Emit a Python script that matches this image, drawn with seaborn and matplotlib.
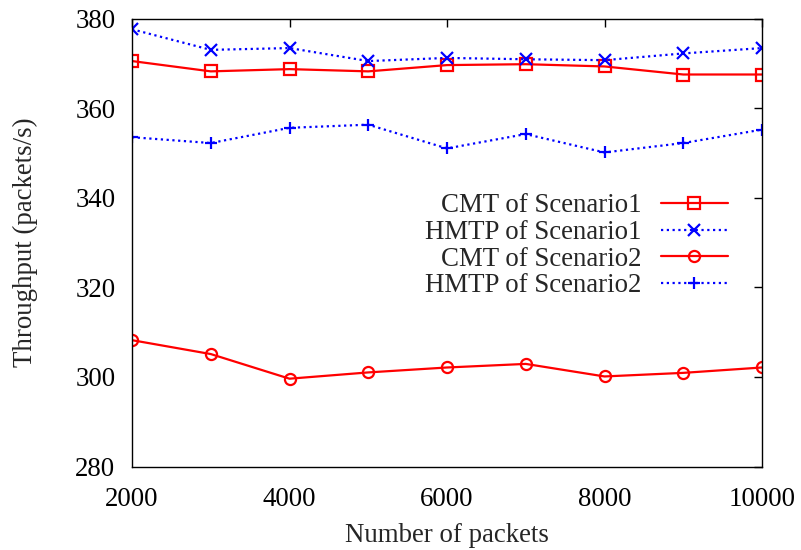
import matplotlib
matplotlib.use("Agg")
import matplotlib.pyplot as plt
import seaborn as sns
import numpy as np

packets = [2000, 3000, 4000, 5000, 6000, 7000, 8000, 9000, 10000]
cmt_s1 = [370.5, 368.2, 368.7, 368.2, 369.6, 369.8, 369.3, 367.5, 367.5]
hmtp_s1 = [377.6, 373.0, 373.4, 370.5, 371.2, 370.9, 370.7, 372.2, 373.4]
cmt_s2 = [308.2, 305.1, 299.6, 301.0, 302.1, 302.9, 300.1, 300.9, 302.1]
hmtp_s2 = [353.5, 352.2, 355.6, 356.3, 351.0, 354.2, 350.1, 352.2, 355.2]

labels = ["CMT of Scenario1", "HMTP of Scenario1", "CMT of Scenario2", "HMTP of Scenario2"]
xticks = [2000, 4000, 6000, 8000, 10000]
yticks = [280, 300, 320, 340, 360, 380]

sns.set_style("white")
plt.rcParams['font.family'] = ['Liberation Serif', 'DejaVu Serif']

FS = 19.4
fig = plt.figure(figsize=(8.01, 5.5), dpi=100)
ax = fig.add_axes([132/801, 1-466.5/550, (762-132)/801, (466.5-18.5)/550])

red = '#ff0000'
blue = '#0000ff'
common = dict(lw=1.6, ms=8, mew=1.6)
dot = (0, (1, 1.6))
sns.lineplot(x=packets, y=cmt_s1, ax=ax, color=red, marker='s', mfc='none', mec=red,
             linestyle='-', label=labels[0], **common)
sns.lineplot(x=packets, y=hmtp_s1, ax=ax, color=blue, marker='x', mec=blue,
             linestyle=dot, label=labels[1], **common)
sns.lineplot(x=packets, y=cmt_s2, ax=ax, color=red, marker='o', mfc='none', mec=red,
             linestyle='-', label=labels[2], **common)
sns.lineplot(x=packets, y=hmtp_s2, ax=ax, color=blue, marker='+', mec=blue,
             linestyle=dot, label=labels[3], **{**common, 'ms': 9})

ax.set_xlim(2000, 10000)
ax.set_ylim(280, 380)
ax.set_xticks(xticks)
ax.set_yticks(yticks)
ax.tick_params(direction='in', top=True, right=True, length=5.5, width=1,
               labelsize=FS, color='black', labelcolor='black')
ax.tick_params(axis='x', pad=15)
ax.tick_params(axis='y', pad=12)
for s in ax.spines.values():
    s.set_color('black')
    s.set_linewidth(1.0)
    s.set_visible(True)
ax.set_xlabel("Number of packets", fontsize=FS, labelpad=7.5)
ax.set_ylabel("Throughput (packets/s)", fontsize=FS, labelpad=27)
ax.grid(False)

leg = ax.legend(loc='upper right', bbox_to_anchor=(747/801, 1-174.6/550),
                bbox_transform=fig.transFigure, frameon=False,
                markerfirst=False, fontsize=FS, handlelength=2.5, handletextpad=0.71,
                labelspacing=0.06, borderpad=0.2)

fig.savefig("out.png", dpi=100)
